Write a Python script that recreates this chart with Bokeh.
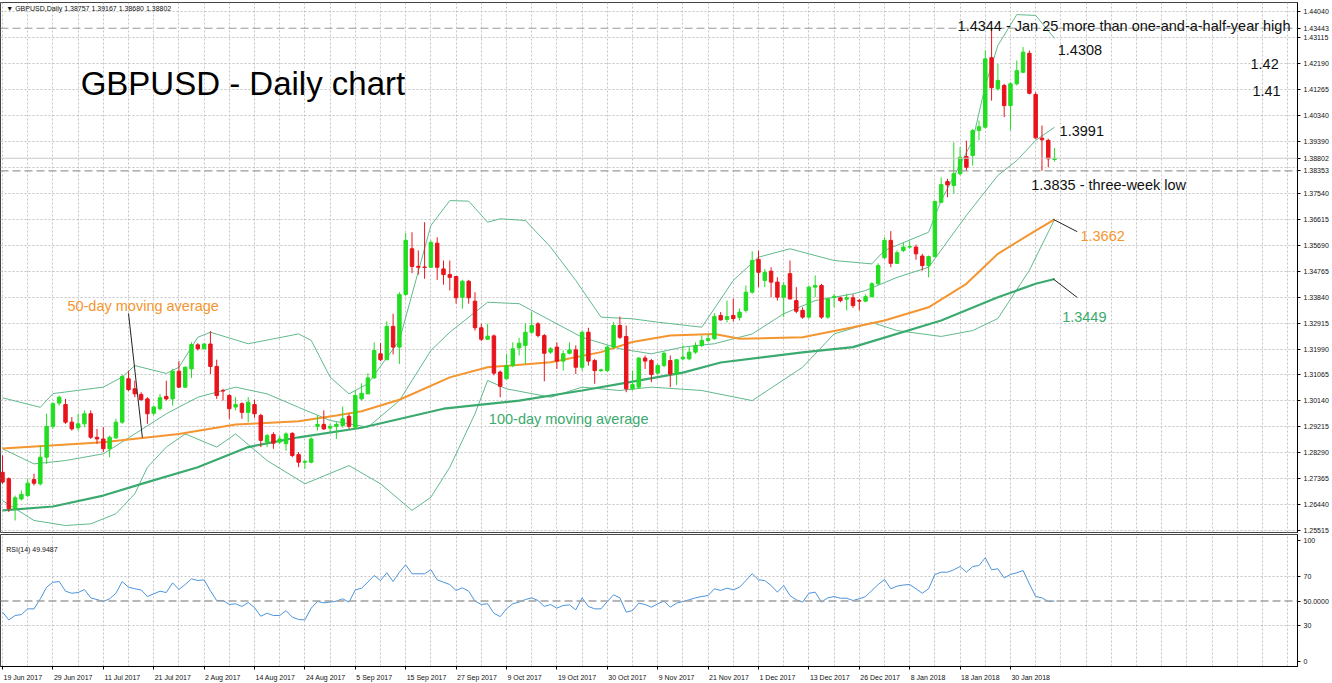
from bokeh.plotting import figure
from bokeh.models import (Range1d, FixedTicker, Span, Label, ColumnDataSource,
                          PrintfTickFormatter)
from bokeh.layouts import column
from bokeh.embed import file_html
from bokeh.resources import INLINE

# ---------------- data ----------------
opens = [1.2759, 1.2736, 1.2629, 1.2664, 1.2676, 1.2733, 1.2718, 1.2813, 1.2923, 1.3006,
         1.3001, 1.2938, 1.2918, 1.2932, 1.2968, 1.2884, 1.2878, 1.2843, 1.2882, 1.2938,
         1.3093, 1.3057, 1.3037, 1.3021, 1.2970, 1.2986, 1.3030, 1.3021, 1.3120, 1.3063,
         1.3128, 1.3214, 1.3200, 1.3217, 1.3137, 1.3051, 1.3033, 1.2992, 1.3004, 1.2973,
         1.3001, 1.2962, 1.2867, 1.2894, 1.2867, 1.2861, 1.2898, 1.2822, 1.2795, 1.2795,
         1.2923, 1.2930, 1.2917, 1.2923, 1.2926, 1.2959, 1.2920, 1.3021, 1.3039, 1.3096,
         1.3182, 1.3161, 1.3280, 1.3206, 1.3394, 1.3557, 1.3494, 1.3492, 1.3491, 1.3577,
         1.3485, 1.3465, 1.3458, 1.3384, 1.3441, 1.3370, 1.3275, 1.3234, 1.3246, 1.3117,
         1.3093, 1.3140, 1.3203, 1.3212, 1.3259, 1.3289, 1.3247, 1.3188, 1.3206, 1.3156,
         1.3184, 1.3196, 1.3134, 1.3259, 1.3158, 1.3122, 1.3122, 1.3206, 1.3283, 1.3244,
         1.3057, 1.3063, 1.3167, 1.3158, 1.3113, 1.3140, 1.3158, 1.3110, 1.3164, 1.3164,
         1.3188, 1.3212, 1.3230, 1.3236, 1.3319, 1.3305, 1.3319, 1.3312, 1.3337, 1.3402,
         1.3519, 1.3444, 1.3477, 1.3438, 1.3384, 1.3468, 1.3372, 1.3337, 1.3313, 1.3420,
         1.3426, 1.3313, 1.3383, 1.3382, 1.3377, 1.3382, 1.3372, 1.3370, 1.3386, 1.3432,
         1.3525, 1.3587, 1.3505, 1.3551, 1.3563, 1.3563, 1.3531, 1.3497, 1.3529, 1.3723,
         1.3797, 1.3783, 1.3825, 1.3886, 1.3890, 1.3979, 1.3991, 1.4239, 1.4128, 1.4140,
         1.4068, 1.4146, 1.4187, 1.4255, 1.4108, 1.3952, 1.3944, 1.38757]
highs = [1.2819, 1.2741, 1.2676, 1.2694, 1.2736, 1.2754, 1.2855, 1.2968, 1.3009, 1.3033,
         1.3021, 1.2956, 1.2968, 1.2980, 1.2980, 1.2914, 1.2920, 1.2890, 1.2950, 1.3108,
         1.3122, 1.3086, 1.3045, 1.3027, 1.2997, 1.3039, 1.3086, 1.3128, 1.3156, 1.3137,
         1.3223, 1.3220, 1.3220, 1.3263, 1.3161, 1.3057, 1.3039, 1.3027, 1.3009, 1.3027,
         1.3018, 1.2968, 1.2896, 1.2902, 1.2890, 1.2902, 1.2902, 1.2831, 1.2803, 1.2884,
         1.2962, 1.2980, 1.2932, 1.2938, 1.2994, 1.2968, 1.3051, 1.3077, 1.3113, 1.3223,
         1.3220, 1.3298, 1.3325, 1.3402, 1.3613, 1.3616, 1.3551, 1.3652, 1.3587, 1.3598,
         1.3515, 1.3515, 1.3460, 1.3446, 1.3446, 1.3402, 1.3289, 1.3289, 1.3251, 1.3122,
         1.3182, 1.3223, 1.3239, 1.3291, 1.3331, 1.3295, 1.3253, 1.3206, 1.3223, 1.3194,
         1.3223, 1.3212, 1.3265, 1.3275, 1.3164, 1.3129, 1.3212, 1.3295, 1.3315, 1.3283,
         1.3122, 1.3170, 1.3176, 1.3164, 1.3146, 1.3191, 1.3176, 1.3164, 1.3212, 1.3206,
         1.3223, 1.3247, 1.3253, 1.3327, 1.3331, 1.3372, 1.3379, 1.3344, 1.3426, 1.3548,
         1.3551, 1.3485, 1.3491, 1.3455, 1.3438, 1.3515, 1.3420, 1.3348, 1.3426, 1.3462,
         1.3432, 1.3384, 1.3396, 1.3386, 1.3396, 1.3394, 1.3378, 1.3394, 1.3438, 1.3505,
         1.3598, 1.3620, 1.3551, 1.3580, 1.3584, 1.3572, 1.3539, 1.3533, 1.3729, 1.3812,
         1.3807, 1.3937, 1.3920, 1.3943, 1.3985, 1.4015, 1.4265, 1.4344, 1.4217, 1.4146,
         1.4152, 1.4229, 1.4277, 1.4265, 1.4116, 1.3997, 1.3950, 1.39167]
lows = [1.2718, 1.2617, 1.2587, 1.2658, 1.2670, 1.2712, 1.2712, 1.2789, 1.2914, 1.2997,
        1.2932, 1.2908, 1.2908, 1.2920, 1.2878, 1.2861, 1.2831, 1.2813, 1.2878, 1.2932,
        1.3049, 1.3027, 1.3015, 1.2932, 1.2962, 1.2980, 1.3015, 1.2997, 1.3060, 1.3060,
        1.3096, 1.3194, 1.3198, 1.3110, 1.3021, 1.3015, 1.2950, 1.2980, 1.2950, 1.2938,
        1.2954, 1.2849, 1.2849, 1.2843, 1.2861, 1.2836, 1.2813, 1.2777, 1.2771, 1.2791,
        1.2908, 1.2910, 1.2902, 1.2878, 1.2918, 1.2914, 1.2914, 1.3015, 1.3038, 1.3093,
        1.3156, 1.3159, 1.3180, 1.3146, 1.3390, 1.3470, 1.3465, 1.3450, 1.3489, 1.3446,
        1.3429, 1.3408, 1.3361, 1.3343, 1.3361, 1.3265, 1.3227, 1.3232, 1.3105, 1.3027,
        1.3090, 1.3134, 1.3176, 1.3146, 1.3253, 1.3241, 1.3084, 1.3182, 1.3128, 1.3122,
        1.3180, 1.3110, 1.3122, 1.3140, 1.3075, 1.3117, 1.3117, 1.3200, 1.3235, 1.3045,
        1.3051, 1.3057, 1.3128, 1.3081, 1.3108, 1.3134, 1.3063, 1.3071, 1.3159, 1.3159,
        1.3182, 1.3206, 1.3223, 1.3232, 1.3301, 1.3294, 1.3297, 1.3301, 1.3329, 1.3397,
        1.3420, 1.3420, 1.3384, 1.3372, 1.3313, 1.3375, 1.3327, 1.3307, 1.3307, 1.3384,
        1.3307, 1.3307, 1.3348, 1.3366, 1.3337, 1.3346, 1.3337, 1.3366, 1.3384, 1.3428,
        1.3521, 1.3491, 1.3503, 1.3545, 1.3557, 1.3518, 1.3479, 1.3455, 1.3527, 1.3720,
        1.3741, 1.3753, 1.3819, 1.3836, 1.3854, 1.3944, 1.3986, 1.4086, 1.4122, 1.4027,
        1.3979, 1.4140, 1.4184, 1.4108, 1.3950, 1.3835, 1.3848, 1.38680]
closes = [1.2724, 1.2629, 1.2668, 1.2680, 1.2720, 1.2720, 1.2813, 1.2923, 1.3004, 1.3027,
          1.2938, 1.2914, 1.2932, 1.2968, 1.2884, 1.2878, 1.2843, 1.2884, 1.2938, 1.3101,
          1.3054, 1.3039, 1.3018, 1.2968, 1.2992, 1.3025, 1.3021, 1.3120, 1.3063, 1.3134,
          1.3215, 1.3200, 1.3217, 1.3137, 1.3033, 1.3049, 1.2986, 1.3001, 1.2973, 1.3009,
          1.2968, 1.2873, 1.2890, 1.2863, 1.2878, 1.2896, 1.2819, 1.2795, 1.2798, 1.2878,
          1.2930, 1.2914, 1.2923, 1.2930, 1.2950, 1.2923, 1.3033, 1.3041, 1.3096, 1.3194,
          1.3161, 1.3280, 1.3206, 1.3394, 1.3587, 1.3494, 1.3491, 1.3490, 1.3580, 1.3491,
          1.3465, 1.3455, 1.3382, 1.3441, 1.3382, 1.3275, 1.3234, 1.3245, 1.3113, 1.3066,
          1.3140, 1.3200, 1.3220, 1.3259, 1.3283, 1.3247, 1.3184, 1.3200, 1.3156, 1.3182,
          1.3196, 1.3134, 1.3259, 1.3156, 1.3122, 1.3125, 1.3206, 1.3283, 1.3241, 1.3057,
          1.3072, 1.3167, 1.3156, 1.3108, 1.3140, 1.3184, 1.3110, 1.3161, 1.3170, 1.3188,
          1.3212, 1.3230, 1.3236, 1.3315, 1.3303, 1.3315, 1.3308, 1.3331, 1.3402, 1.3515,
          1.3473, 1.3473, 1.3438, 1.3384, 1.3426, 1.3378, 1.3334, 1.3313, 1.3420, 1.3426,
          1.3313, 1.3378, 1.3386, 1.3372, 1.3382, 1.3354, 1.3370, 1.3386, 1.3432, 1.3497,
          1.3587, 1.3505, 1.3543, 1.3563, 1.3565, 1.3539, 1.3497, 1.3529, 1.3726, 1.3786,
          1.3785, 1.3825, 1.3884, 1.3848, 1.3979, 1.3993, 1.4235, 1.4132, 1.4158, 1.4068,
          1.4146, 1.4193, 1.4259, 1.4112, 1.3953, 1.3946, 1.3878, 1.38802]

rsi = [40.8, 34.4, 38.0, 38.8, 43.5, 43.5, 51.8, 61.4, 65.5, 66.1, 58.1, 56.4, 57.0, 59.5,
       52.6, 51.2, 49.6, 51.8, 56.4, 66.1, 61.4, 60.1, 59.2, 53.7, 55.9, 58.1, 57.0, 65.0,
       59.5, 63.6, 68.3, 66.9, 67.5, 58.4, 50.4, 50.4, 47.1, 47.7, 45.5, 48.7, 44.6, 37.4,
       39.9, 38.0, 38.0, 42.1, 36.6, 34.7, 34.4, 44.1, 49.6, 48.5, 49.1, 49.9, 51.8, 49.1,
       59.2, 60.6, 65.6, 71.1, 66.9, 73.3, 66.1, 73.8, 79.9, 72.5, 72.5, 72.5, 75.8, 67.5,
       65.5, 63.6, 58.7, 60.9, 58.1, 49.9, 47.1, 47.7, 39.9, 37.1, 43.5, 47.7, 49.1, 51.2,
       52.6, 50.4, 45.5, 47.1, 44.1, 46.3, 46.8, 42.7, 52.6, 45.5, 43.5, 43.5, 49.6, 55.1,
       52.6, 40.8, 42.1, 48.2, 47.1, 44.9, 47.7, 49.9, 44.9, 48.2, 49.6, 51.0, 52.6, 53.7,
       54.5, 60.1, 58.7, 60.6, 59.2, 61.4, 66.9, 72.5, 67.5, 66.9, 62.8, 57.3, 62.8, 54.5,
       51.0, 49.1, 56.4, 57.3, 49.1, 52.6, 53.7, 52.3, 52.3, 50.4, 51.8, 53.7, 58.7, 63.6,
       67.8, 60.1, 62.3, 63.2, 63.6, 60.1, 56.4, 60.1, 71.9, 73.8, 73.8, 75.8, 78.5, 73.8,
       78.5, 79.3, 85.7, 75.8, 76.6, 69.1, 71.9, 73.3, 75.2, 64.1, 53.7, 52.6, 49.6, 49.9487]

# moving averages and Bollinger bands, read at sample bars
ma50_bars = [0, 16, 28, 37, 41, 47, 53, 57, 63, 71, 77, 87, 95, 100, 106, 113, 117, 127,
             135, 140, 147, 153, 158, 164, 167]
ma50_vals = [1.2844, 1.2866, 1.2896, 1.2930, 1.2934, 1.2941, 1.2962, 1.2977, 1.3018, 1.3098,
             1.3134, 1.3152, 1.3188, 1.3224, 1.3247, 1.3253, 1.3236, 1.3241, 1.3277, 1.3301,
             1.3348, 1.3432, 1.3539, 1.3622, 1.3662]
ma100_bars = [0, 8, 16, 23, 31, 39, 47, 57, 70, 82, 92, 100, 108, 114, 127, 135, 149, 158,
              164, 167]
ma100_vals = [1.2623, 1.2637, 1.2676, 1.2724, 1.2777, 1.2849, 1.2884, 1.2918, 1.2986, 1.3015,
              1.3051, 1.3083, 1.3115, 1.3151, 1.3187, 1.3206, 1.3301, 1.3384, 1.3432, 1.3449]
bb_up_bars = [0, 6, 8, 16, 19, 21, 26, 28, 31, 33, 39, 47, 49, 52, 55, 58, 63, 68, 71, 74,
              77, 79, 83, 87, 91, 95, 100, 104, 111, 116, 120, 125, 132, 138, 140, 147, 149,
              154, 156, 158, 161, 164, 167]
bb_up_vals = [1.3025, 1.2991, 1.3040, 1.3063, 1.3099, 1.3140, 1.3112, 1.3134, 1.3241, 1.3259,
              1.3218, 1.3253, 1.3230, 1.3099, 1.3039, 1.3075, 1.3230, 1.3640, 1.3729, 1.3727,
              1.3652, 1.3664, 1.3658, 1.3563, 1.3444, 1.3313, 1.3307, 1.3295, 1.3277, 1.3444,
              1.3527, 1.3557, 1.3515, 1.3503, 1.3551, 1.3616, 1.3729, 1.3943, 1.4140, 1.4283,
              1.4393, 1.4390, 1.4308]
bb_mid_bars = [0, 5, 10, 16, 21, 26, 31, 37, 42, 47, 52, 58, 63, 68, 71, 77, 82, 87, 92, 98,
               103, 108, 113, 119, 124, 129, 135, 137, 142, 147, 153, 158, 161, 164, 167]
bb_mid_vals = [1.2843, 1.2789, 1.2801, 1.2825, 1.2896, 1.2968, 1.3027, 1.3063, 1.3039, 1.2991,
               1.2944, 1.2920, 1.3015, 1.3194, 1.3259, 1.3366, 1.3361, 1.3301, 1.3241, 1.3200,
               1.3182, 1.3206, 1.3218, 1.3253, 1.3325, 1.3372, 1.3396, 1.3408, 1.3455, 1.3491,
               1.3676, 1.3819, 1.3872, 1.3944, 1.3991]
bb_low_bars = [0, 5, 10, 14, 18, 21, 23, 26, 29, 34, 37, 42, 48, 55, 60, 65, 68, 71, 75, 77,
               80, 87, 92, 98, 103, 111, 119, 127, 132, 138, 142, 149, 154, 158, 163, 167]
bb_low_vals = [1.2658, 1.2587, 1.2569, 1.2575, 1.2611, 1.2682, 1.2777, 1.2849, 1.2896, 1.2849,
               1.2896, 1.2801, 1.2718, 1.2783, 1.2718, 1.2623, 1.2670, 1.2777, 1.2968, 1.3087,
               1.3057, 1.3027, 1.3063, 1.3051, 1.3063, 1.3051, 1.3015, 1.3134, 1.3253, 1.3294,
               1.3265, 1.3244, 1.3265, 1.3308, 1.3480, 1.3662]

date_ticks = [0, 8, 16, 24, 32, 40, 48, 56, 64, 72, 80, 88, 96, 104, 112, 120, 128, 136, 144,
              152, 160]
date_labels = ["19 Jun 2017", "29 Jun 2017", "11 Jul 2017", "21 Jul 2017", "2 Aug 2017",
               "14 Aug 2017", "24 Aug 2017", "5 Sep 2017", "15 Sep 2017", "27 Sep 2017",
               "9 Oct 2017", "19 Oct 2017", "30 Oct 2017", "9 Nov 2017", "21 Nov 2017",
               "1 Dec 2017", "13 Dec 2017", "26 Dec 2017", "8 Jan 2018", "18 Jan 2018",
               "30 Jan 2018"]
price_tick_labels = ["1.44040", "1.43115", "1.42190", "1.41265", "1.40340", "1.39390",
                     "1.38465", "1.37540", "1.36615", "1.35690", "1.34765", "1.33840",
                     "1.32915", "1.31990", "1.31065", "1.30140", "1.29215", "1.28290",
                     "1.27365", "1.26440", "1.25515"]
price_marker_labels = ["1.43443", "1.38802", "1.38353"]   # highlighted levels on the scale
rsi_ticks = [0, 30, 70, 100]
rsi_level = 50

# ---------------- styling ----------------
FONT = "Liberation Sans"
UP = "#22DD22"
DOWN = "#E8141C"
GRID = "#c4c4c4"
ORANGE = "#F5952F"
MA100C = "#3BAA6E"
BBC = "#62B98C"
BAR_PX = 6.3          # pixels per bar
AXIS_FS = 7           # px font size of axis labels

N = len(closes)
bars = list(range(N))
XR = Range1d(-0.32, 205.56)

p = figure(frame_width=1297, frame_height=530, x_range=XR, y_range=Range1d(1.25441, 1.44362),
           output_backend="svg", toolbar_location=None, y_axis_location="right",
           min_border_left=0, min_border_right=35, min_border_top=2, min_border_bottom=1)
p.background_fill_color = "white"
p.border_fill_color = "white"
p.outline_line_color = "#444444"
p.outline_line_width = 1

xt = FixedTicker(ticks=date_ticks,
                 minor_ticks=[t for t in range(4, 208, 4) if t not in date_ticks])
p.xaxis.visible = False
p.xgrid.ticker = xt
for g in (p.xgrid, p.ygrid):
    g.grid_line_color = GRID
    g.grid_line_dash = "2 2"
    g.grid_line_width = 1
p.xgrid.minor_grid_line_color = GRID
p.xgrid.minor_grid_line_dash = "2 2"

price_ticks = [float(s) for s in price_tick_labels]
marker_ticks = [float(s) for s in price_marker_labels]
hidden = 1.38465     # covered by the highlighted levels in the original
ya = p.yaxis[0]
ya.ticker = FixedTicker(ticks=[t for t in price_ticks if t != hidden] + marker_ticks)
p.ygrid.ticker = FixedTicker(ticks=price_ticks)
ya.formatter = PrintfTickFormatter(format="%.5f")
ya.axis_line_color = "black"
ya.major_tick_line_color = "black"
ya.major_tick_out = 3
ya.major_tick_in = 0
ya.minor_tick_line_color = None
ya.major_label_text_font = FONT
ya.major_label_text_font_size = f"{AXIS_FS}px"
ya.major_label_text_color = "#111111"
ya.major_label_standoff = 3

# Bollinger bands and moving averages
p.line(bb_up_bars, bb_up_vals, line_color=BBC, line_width=1)
p.line(bb_mid_bars, bb_mid_vals, line_color=BBC, line_width=1)
p.line(bb_low_bars, bb_low_vals, line_color=BBC, line_width=1)
p.line(ma100_bars, ma100_vals, line_color=MA100C, line_width=2.2)
p.line(ma50_bars, ma50_vals, line_color=ORANGE, line_width=2)

# candles
up = [i for i in bars if closes[i] >= opens[i]]
dn = [i for i in bars if closes[i] < opens[i]]
su = ColumnDataSource(dict(x=up, o=[opens[i] for i in up], c=[closes[i] for i in up],
                           h=[highs[i] for i in up], l=[lows[i] for i in up]))
sd = ColumnDataSource(dict(x=dn, o=[opens[i] for i in dn], c=[closes[i] for i in dn],
                           h=[highs[i] for i in dn], l=[lows[i] for i in dn]))
p.segment(x0="x", y0="l", x1="x", y1="h", source=su, line_color=UP, line_width=1)
p.segment(x0="x", y0="l", x1="x", y1="h", source=sd, line_color=DOWN, line_width=1)
p.vbar(x="x", bottom="o", top="c", width=0.55, source=su, fill_color=UP, line_color=UP)
p.vbar(x="x", bottom="c", top="o", width=0.55, source=sd, fill_color=DOWN, line_color=DOWN)

# level lines
p.add_layout(Span(location=marker_ticks[0], dimension="width", line_color="#999999",
                  line_dash="8 4", line_width=1.2))
p.add_layout(Span(location=marker_ticks[2], dimension="width", line_color="#999999",
                  line_dash="8 4", line_width=1.2))
p.add_layout(Span(location=marker_ticks[1], dimension="width", line_color="#c8c8c8",
                  line_width=1))

# leader lines
p.segment(x0=[20.0, 166.8, 166.8], y0=[1.3326, 1.3662, 1.3449],
          x1=[22.2, 170.6, 170.6], y1=[1.2883, 1.3618, 1.3383],
          line_color="#222222", line_width=1)

def note(x, y, text, size="14.5px", color="#111111", baseline="alphabetic"):
    p.add_layout(Label(x=x, y=y, text=text, text_font=FONT, text_font_size=size,
                       text_color=color, text_baseline=baseline, text_align="left"))

note(12.4, 1.4147, "GBPUSD - Daily chart", size="33px", color="#000000")
note(151.6, 1.4354, "1.4344 - Jan 25 more than one-and-a-half-year high")
note(167.5, 1.4267, "1.4308")
note(198.1, 1.4215, "1.42")
note(198.4, 1.4120, "1.41")
note(167.8, 1.3977, "1.3991")
note(163.3, 1.3783, "1.3835 - three-week low")
note(171.1, 1.3601, "1.3662", color=ORANGE)
note(168.2, 1.3313, "1.3449", color=MA100C)
note(10.3, 1.3351, "50-day moving average", color=ORANGE)
note(77.2, 1.2950, "100-day moving average", color=MA100C)
note(0.6, 1.4415, "\u25BC GBPUSD,Daily  1.38757 1.39167 1.38680 1.38802", size="7px",
     baseline="middle")

# ---------------- RSI panel ----------------
r = figure(frame_width=1297, frame_height=132, x_range=XR, y_range=Range1d(-4.13, 104.96),
           output_backend="svg", toolbar_location=None, y_axis_location="right",
           min_border_left=0, min_border_right=35, min_border_top=1)
r.background_fill_color = "white"
r.border_fill_color = "white"
r.outline_line_color = "#444444"

# date axis: each label starts at its bar (MT4 style); the small tick marks sit at the bars
EM = {" ": .278, "J": .5, "u": .556, "n": .556, "l": .222, "A": .667, "g": .556, "S": .667,
      "e": .556, "p": .556, "O": .778, "c": .5, "t": .278, "N": .722, "o": .556, "v": .5,
      "D": .722, "a": .556}
def half_width_bars(s):
    em = sum(EM.get(ch, .556) for ch in s)
    return (em * AXIS_FS / 2 + 1) / BAR_PX
lab_pos = [round(t + half_width_bars(s), 3) for t, s in zip(date_ticks, date_labels)]
xa = r.xaxis[0]
xa.ticker = FixedTicker(ticks=lab_pos, minor_ticks=date_ticks)
xa.major_label_overrides = {pos: s for pos, s in zip(lab_pos, date_labels)}
xa.major_tick_line_color = None
xa.minor_tick_line_color = "black"
xa.minor_tick_out = 3
xa.minor_tick_in = 0
xa.axis_line_color = "black"
xa.major_label_standoff = 1
xa.major_label_text_font = FONT
xa.major_label_text_font_size = f"{AXIS_FS}px"
xa.major_label_text_color = "#111111"

r.xgrid.ticker = xt
ra = r.yaxis[0]
ra.ticker = FixedTicker(ticks=rsi_ticks + [rsi_level])
ra.major_label_overrides = {rsi_level: "50.0000"}
ra.major_label_text_font = FONT
ra.major_label_text_font_size = f"{AXIS_FS}px"
ra.major_label_text_color = "#111111"
ra.major_tick_out = 3
ra.major_tick_in = 0
ra.minor_tick_line_color = None
ra.axis_line_color = "black"
ra.major_label_standoff = 3
r.ygrid.ticker = FixedTicker(ticks=[30, 70])
for g in (r.xgrid, r.ygrid):
    g.grid_line_color = GRID
    g.grid_line_dash = "2 2"
r.xgrid.minor_grid_line_color = GRID
r.xgrid.minor_grid_line_dash = "2 2"
r.add_layout(Span(location=rsi_level, dimension="width", line_color="#a0a0a0",
                  line_dash="8 4", line_width=1.5))
r.line(bars, rsi, line_color="#4D94DB", line_width=1)
r.add_layout(Label(x=0.6, y=92.6, text="RSI(14) 49.9487", text_font=FONT, text_font_size="7px",
                   text_color="#111111", text_baseline="middle"))

layout = column(p, r, spacing=0)
open("out.html", "w").write(file_html(layout, INLINE))
